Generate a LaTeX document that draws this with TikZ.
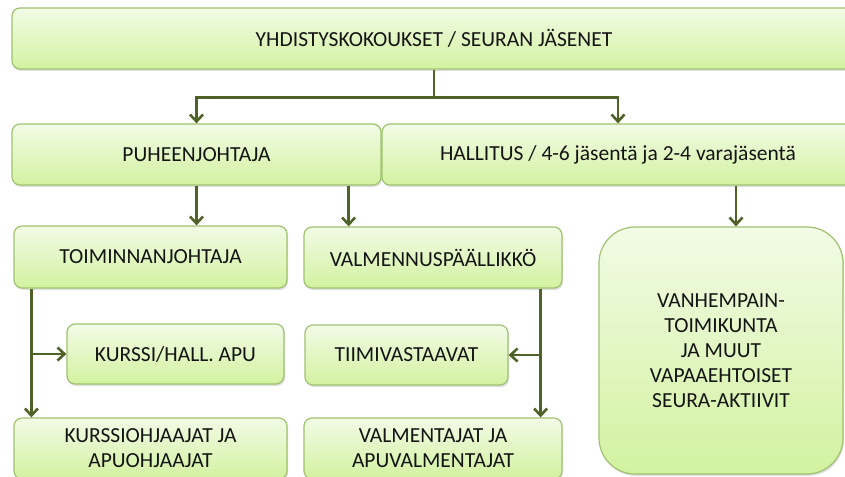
\documentclass[tikz,border=0pt]{standalone}
\usepackage{fontspec}
\setmainfont{Carlito}
\usetikzlibrary{arrows.meta,shadows}
\definecolor{boxtop}{HTML}{F2FBE6}
\definecolor{boxbottom}{HTML}{D2F2A0}
\definecolor{boxline}{HTML}{A0C270}
\definecolor{arrowgreen}{HTML}{4F6228}
\definecolor{textdark}{HTML}{141414}

\begin{document}
\begin{tikzpicture}[x=1pt,y=-1pt,>={Straight Barb[length=7pt,width=13pt]},
  boxtext/.style={inner sep=0pt,align=center,text=textdark,font=\fontsize{21.5}{25}\selectfont},
  box/.style={boxtext,shape=rectangle,draw=boxline,line width=1.2pt,rounded corners=8pt,
    top color=boxtop,bottom color=boxbottom,
    drop shadow={shadow xshift=1pt,shadow yshift=-2pt,opacity=0.25}},
  link/.style={->,draw=arrowgreen,line width=2.6pt}]
\useasboundingbox (0,0) rectangle (845,476);
\clip (0,0) rectangle (845,476);
\node     (meeting) at (456,38.5)    [box,minimum width=888,minimum height=61] {};
\node (meetingtext) at (434,38.5)    [boxtext] {YHDISTYSKOKOUKSET / SEURAN JÄSENET};
\node       (chair) at (196.5,154.5) [box,minimum width=369,minimum height=61] {PUHEENJOHTAJA};
\node       (board) at (641,154.5)   [box,minimum width=518,minimum height=61] {};
\node   (boardtext) at (618,154.5)   [boxtext] {HALLITUS / 4-6 jäsentä ja 2-4 varajäsentä};
\node    (director) at (150.5,257)   [box,minimum width=273,minimum height=62] {TOIMINNANJOHTAJA};
\node   (headcoach) at (433,257.5)   [box,minimum width=258,minimum height=61] {VALMENNUSPÄÄLLIKKÖ};
\node      (assist) at (175.5,354)   [box,minimum width=217,minimum height=60] {KURSSI/HALL. APU};
\node       (teams) at (406.5,355)   [box,minimum width=203,minimum height=60] {TIIMIVASTAAVAT};
\node (instructors) at (150.5,448.5) [box,minimum width=273,minimum height=61] {KURSSIOHJAAJAT JA\\APUOHJAAJAT};
\node     (coaches) at (433,448.5)   [box,minimum width=258,minimum height=61] {VALMENTAJAT JA\\APUVALMENTAJAT};
\node  (volunteers) at (721,350.5)   [box,rounded corners=36pt,minimum width=244,minimum height=247]
  {VANHEMPAIN-\\TOIMIKUNTA\\JA MUUT\\VAPAAEHTOISET\\SEURA-AKTIIVIT};
\draw [link] (meetingtext |- meeting.south) -- ++(0,28) -| (chair.north);
\draw [link] (meetingtext |- meeting.south) -- ++(0,28) -| (boardtext |- board.north);
\draw [link] (chair.south) -- (chair.south |- director.north);
\draw [link] ([xshift=-33]chair.south east) -- ([xshift=-33]chair.south east |- headcoach.north);
\draw [link] ([xshift=15]volunteers.north |- board.south) -- ([xshift=15]volunteers.north);
\draw [link] ([xshift=18]director.south west) -- ([xshift=18]instructors.north west);
\draw [link] ([xshift=18]director.south west |- assist.west) -- (assist.west);
\draw [link] ([xshift=-22]headcoach.south east) -- ([xshift=-22]coaches.north east);
\draw [link] ([xshift=-22]headcoach.south east |- teams.east) -- (teams.east);
\end{tikzpicture}
\end{document}
